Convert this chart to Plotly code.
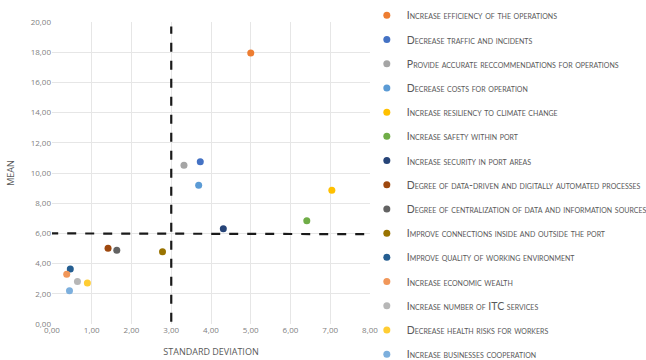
import plotly.graph_objects as go

names = [
    "Increase efficiency of the operations",
    "Decrease traffic and incidents",
    "Provide accurate reccommendations for operations",
    "Decrease costs for operation",
    "Increase resiliency to climate change",
    "Increase safety within port",
    "Increase security in port areas",
    "Degree of data-driven and digitally automated processes",
    "Degree of centralization of data and information sources",
    "Improve connections inside and outside the port",
    "Improve quality of working environment",
    "Increase economic wealth",
    "Increase number of ITC services",
    "Decrease health risks for workers",
    "Increase businesses cooperation",
]
std_dev = [5.00, 3.73, 3.32, 3.69, 7.04, 6.41, 4.31, 1.41, 1.63, 2.78, 0.46, 0.37, 0.64, 0.89, 0.44]
mean = [17.95, 10.74, 10.52, 9.19, 8.86, 6.83, 6.30, 5.01, 4.89, 4.78, 3.64, 3.29, 2.82, 2.71, 2.20]
colors = ["#ED7D31", "#4472C4", "#A5A5A5", "#5B9BD5", "#FFC000", "#70AD47", "#264478",
          "#9E480E", "#636363", "#997300", "#255E91", "#F1975A", "#B7B7B7", "#FFCD33", "#7CAFDD"]

threshold_x = 3.0
threshold_y = 6.0

fig = go.Figure()
for i, (n, x, y, c) in enumerate(zip(names, std_dev, mean, colors)):
    fig.add_trace(go.Scatter(
        x=[x], y=[y], mode="markers", name=n, legendgroup=str(i),
        marker=dict(color=c, size=7, line=dict(width=0)),
    ))

fig.add_shape(type="line", x0=threshold_x, x1=threshold_x, y0=0.15, y1=19.7,
              line=dict(color="#1a1a1a", width=2.2, dash="dash"))
fig.add_shape(type="line", x0=-0.07, x1=7.9, y0=threshold_y, y1=threshold_y - 0.05,
              line=dict(color="#1a1a1a", width=2.2, dash="dash"))

axis_common = dict(
    showgrid=True, gridcolor="#E6E6E6", gridwidth=1, zeroline=False,
    showline=False, tickformat=".2f", ticks="",
    tickfont=dict(size=8, color="#7F7F7F", family="Open Sans"),
)
fig.update_xaxes(range=[0, 8], dtick=1, title=dict(text="STANDARD DEVIATION",
                 font=dict(size=9, color="#595959", family="Open Sans"), standoff=14),
                 **axis_common)
fig.update_yaxes(range=[0, 20], dtick=2, title=dict(text="MEAN",
                 font=dict(size=9, color="#595959", family="Open Sans"), standoff=14),
                 **axis_common)

fig.update_layout(
    width=646, height=360,
    margin=dict(l=52, r=276, t=22, b=36, autoexpand=False),
    paper_bgcolor="white", plot_bgcolor="white",
    separators=", ",
    showlegend=True,
    legend=dict(
        x=0.99, y=1.07, xanchor="left", yanchor="top",
        font=dict(size=10.5, color="#595959", family="Lato", variant="small-caps"),
        traceorder="grouped", tracegroupgap=5.2, itemwidth=30,
        bgcolor="rgba(0,0,0,0)", maxheight=1,
    ),
)

fig.write_html("out.html", config={"displayModeBar": False},
               post_script="document.body.style.margin='0';")
